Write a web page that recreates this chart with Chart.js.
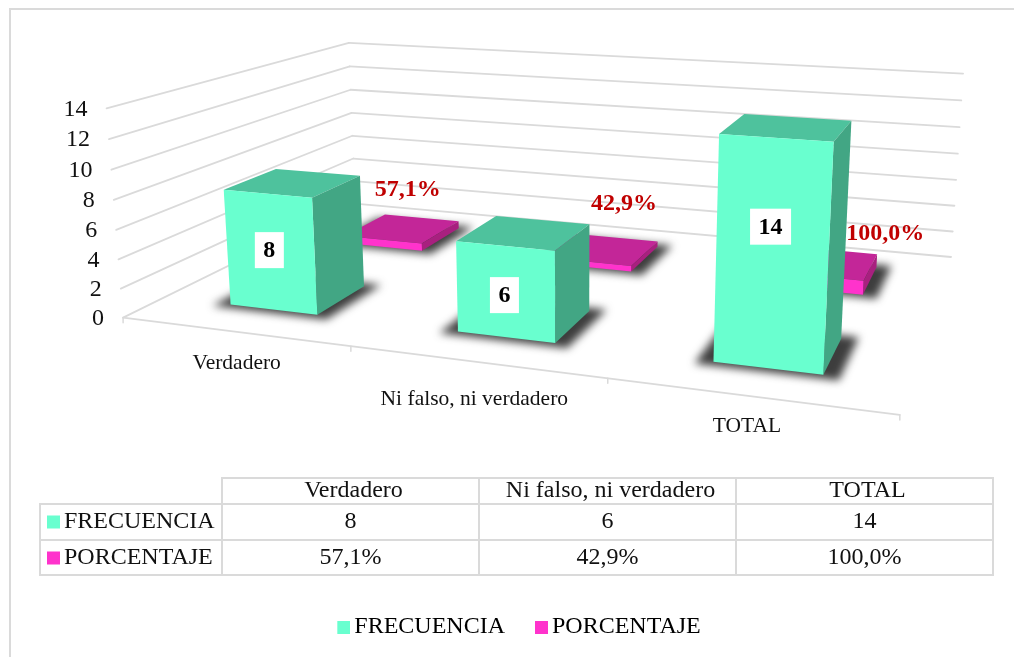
<!DOCTYPE html>
<html lang="es">
<head>
<meta charset="utf-8">
<title>Frecuencia y porcentaje</title>
<script src="https://cdn.jsdelivr.net/npm/chart.js@4"></script>
<style>
html,body{margin:0;padding:0;background:#fff;overflow:hidden}
canvas{display:block}
</style>
</head>
<body>
<canvas id="c" width="1014" height="657"></canvas>
<script>
const categories = ["Verdadero", "Ni falso, ni verdadero", "TOTAL"];
const seriesNames = ["FRECUENCIA", "PORCENTAJE"];
const frecuencia = [8, 6, 14];
const porcentaje = [0.571, 0.429, 1];

const FACE = { front: ["#69FFCF", "#FF33CC"], top: ["#4EC29D", "#C32698"], side: ["#42A684", "#A8207F"] };
const GRID = "#dadada", SERIF = "'Liberation Serif'", RED = "#C00000";
const ROWS = [[0.145, 0.35], [0.645, 0.86]];
const U_NUDGE = 0.002;
const fmtPct = v => (v * 100).toFixed(1).replace(".", ",") + "%";

// Camera calibration: room corners (u, v, w) -> screen
const CAL = [
  [0,0,0,123,317],[1,0,0,900,415],[0,1,0,355,204],[1,1,0,951,257],
  [0,0,1,106.5,109],[0,1,1,349,42.5],[1,1,1,963,73.5]
];
function solveCamera(pts){
  const A=[],b=[];
  for(const [u,v,w,x,y] of pts){
    A.push([u,v,w,1,0,0,0,0,-x*u,-x*v,-x*w]); b.push(x);
    A.push([0,0,0,0,u,v,w,1,-y*u,-y*v,-y*w]); b.push(y);
  }
  const n=11, M=[];
  for(let i=0;i<n;i++){ M[i]=[]; for(let j=0;j<=n;j++){ let s=0;
    for(let r=0;r<A.length;r++) s+=A[r][i]*(j<n?A[r][j]:b[r]); M[i][j]=s; } }
  for(let i=0;i<n;i++){
    let p=i; for(let r=i+1;r<n;r++) if(Math.abs(M[r][i])>Math.abs(M[p][i])) p=r;
    [M[i],M[p]]=[M[p],M[i]];
    for(let r=0;r<n;r++){ if(r===i) continue; const f=M[r][i]/M[i][i];
      for(let j=i;j<=n;j++) M[r][j]-=f*M[i][j]; }
  }
  return M.map((row,i)=>row[n]/row[i]);
}
const CAM = solveCamera(CAL);
function P(u,v,w){
  const d=CAM[8]*u+CAM[9]*v+CAM[10]*w+1;
  return [(CAM[0]*u+CAM[1]*v+CAM[2]*w+CAM[3])/d,(CAM[4]*u+CAM[5]*v+CAM[6]*w+CAM[7])/d];
}
function poly(ctx,pts,fill){
  ctx.beginPath(); pts.forEach((p,i)=>i?ctx.lineTo(p[0],p[1]):ctx.moveTo(p[0],p[1])); ctx.closePath();
  ctx.fillStyle=fill; ctx.fill();
}
function line(ctx,a,b,color,width){
  ctx.beginPath(); ctx.moveTo(a[0],a[1]); ctx.lineTo(b[0],b[1]);
  ctx.strokeStyle=color; ctx.lineWidth=width; ctx.stroke();
}
function text(ctx,s,x,y,font,color,align){
  ctx.font=font; ctx.fillStyle=color; ctx.textAlign=align||"center"; ctx.textBaseline="middle"; ctx.fillText(s,x,y);
}
function barBox(chart,d,i){
  const xs=chart.scales.x, ys=chart.scales.y, el=chart.getDatasetMeta(d).data[i];
  const uc=(el.x-xs.left)/xs.width+U_NUDGE, hw=el.width/xs.width/2;
  return {u0:uc-hw,u1:uc+hw,v0:ROWS[d][0],v1:ROWS[d][1],w:(ys.bottom-el.y)/ys.height};
}
const frecShift = [[-2,-1],[-2,4],[-3,-25]];
const pctShift = [[5,-39],[21,-45],[61,-29]];
const catShift = [[4,2],[0,8],[-1,0]];

const room3d = {
  id:"room3d",
  afterLayout(chart){ const l=chart.legend; l.left+=14; l.right+=14; l.top+=2; l.bottom+=2; },
  beforeDatasetsDraw(chart){
    const ctx=chart.ctx, ys=chart.scales.y;
    ctx.save(); ctx.lineCap="round";
    // frame
    ctx.strokeStyle=GRID; ctx.lineWidth=2;
    ctx.beginPath(); ctx.moveTo(10,657); ctx.lineTo(10,9); ctx.lineTo(1014,9); ctx.stroke();
    // walls
    ys.ticks.forEach(t=>{
      const w=(t.value-ys.min)/(ys.max-ys.min);
      line(ctx,P(0,0,w),P(0,1,w),GRID,1.8);
      line(ctx,P(0,1,w),P(1,1,w),GRID,1.8);
    });
    // floor front edge and ticks
    line(ctx,P(0,0,0),P(1,0,0),GRID,1.8);
    for(let i=0;i<=categories.length;i++){
      const a=P(i/categories.length,0,0);
      line(ctx,a,[a[0],a[1]+5],GRID,1.5);
    }
    // shadows
    ctx.filter="blur(4px)";
    for(let d=1;d>=0;d--) categories.forEach((_,i)=>{
      const b=barBox(chart,d,i), du=0.02, dv=0.02;
      poly(ctx,[P(b.u0-du,b.v0-dv,0),P(b.u1+du,b.v0-dv,0),P(b.u1+du,b.v1+dv,0),P(b.u0-du,b.v1+dv,0)],"rgba(40,40,40,0.9)");
    });
    ctx.filter="none";
    // bars, back row first
    for(let d=1;d>=0;d--) categories.forEach((_,i)=>{
      const b=barBox(chart,d,i);
      const f0=P(b.u0,b.v0,0),f1=P(b.u1,b.v0,0),t0=P(b.u0,b.v0,b.w),t1=P(b.u1,b.v0,b.w);
      const g0=P(b.u0,b.v1,b.w),g1=P(b.u1,b.v1,b.w),s1=P(b.u1,b.v1,0);
      poly(ctx,[t0,t1,g1,g0],FACE.top[d]);
      poly(ctx,[f1,s1,g1,t1],FACE.side[d]);
      poly(ctx,[f0,f1,t1,t0],FACE.front[d]);
    });
    ctx.restore();
    return false;
  },
  afterDraw(chart){
    const ctx=chart.ctx, ys=chart.scales.y, xs=chart.scales.x;
    ctx.save();
    const F24=`24px ${SERIF}`, B24=`bold 24px ${SERIF}`, F21=`21.5px ${SERIF}`;
    // value axis labels
    ys.ticks.forEach(t=>{
      const p=P(0,0,(t.value-ys.min)/(ys.max-ys.min));
      text(ctx,t.label,p[0]-19,p[1]+1,F24,"#111","right");
    });
    // category labels
    categories.forEach((c,i)=>{
      const p=P((xs.getPixelForValue(i)-xs.left)/xs.width,0,0);
      text(ctx,c,p[0]-1+catShift[i][0],p[1]+30+catShift[i][1],F21,"#111");
    });
    // data labels
    frecuencia.forEach((v,i)=>{
      const b=barBox(chart,0,i);
      const a=P(b.u0,b.v0,0),c=P(b.u1,b.v0,b.w);
      const x=(a[0]+c[0])/2+frecShift[i][0], y=(a[1]+c[1])/2+frecShift[i][1];
      ctx.font=B24; const tw=ctx.measureText(String(v)).width+17;
      ctx.fillStyle="#fff"; ctx.fillRect(x-tw/2,y-18,tw,36);
      text(ctx,String(v),x,y+1,B24,"#000");
    });
    porcentaje.forEach((v,i)=>{
      const b=barBox(chart,1,i);
      const p=P((b.u0+b.u1)/2,(b.v0+b.v1)/2,b.w);
      text(ctx,fmtPct(v),p[0]+pctShift[i][0],p[1]+pctShift[i][1],B24,RED);
    });
    // data table
    const cols=[40,222,479,736,993], rowsY=[478,504,540,575];
    ctx.lineCap="square";
    line(ctx,[cols[1],rowsY[0]],[cols[4],rowsY[0]],GRID,2);
    for(let r=1;r<rowsY.length;r++) line(ctx,[cols[0],rowsY[r]],[cols[4],rowsY[r]],GRID,2);
    line(ctx,[cols[0],rowsY[1]],[cols[0],rowsY[3]],GRID,2);
    for(let c=1;c<cols.length;c++) line(ctx,[cols[c],rowsY[0]],[cols[c],rowsY[3]],GRID,2);
    const cx=i=>(cols[i+1]+cols[i+2])/2;
    categories.forEach((c,i)=>text(ctx,c,cx(i)+3,rowsY[0]+13,F24,"#111"));
    frecuencia.forEach((v,i)=>text(ctx,String(v),cx(i),rowsY[1]+18,F24,"#111"));
    porcentaje.forEach((v,i)=>text(ctx,fmtPct(v),cx(i),rowsY[2]+18,F24,"#111"));
    seriesNames.forEach((s,d)=>{
      const y=rowsY[d+1]+18;
      ctx.fillStyle=FACE.front[d]; ctx.fillRect(47,y-6.5,13,13);
      text(ctx,s,64,y,F24,"#111","left");
    });
    ctx.restore();
  }
};
function swatch(color){
  const c=document.createElement("canvas"); c.width=17; c.height=13;
  const g=c.getContext("2d"); g.fillStyle=color; g.fillRect(4,0,13,13);
  return c;
}
new Chart(document.getElementById("c"),{
  type:"bar",
  plugins:[room3d],
  data:{
    labels:categories,
    datasets:[
      {label:seriesNames[0],data:frecuencia,backgroundColor:FACE.front[0],grouped:false,barPercentage:0.395,categoryPercentage:1},
      {label:seriesNames[1],data:porcentaje,backgroundColor:FACE.front[1],grouped:false,barPercentage:0.395,categoryPercentage:1}
    ]
  },
  options:{
    responsive:false,animation:false,events:[],
    layout:{padding:{bottom:10}},
    scales:{
      x:{display:false},
      y:{display:false,min:0,max:14,ticks:{stepSize:2}}
    },
    plugins:{
      tooltip:{enabled:false},
      legend:{
        position:"bottom",
        labels:{
          font:{family:"Liberation Serif",size:24},color:"#111",padding:34,
          usePointStyle:true,pointStyleWidth:1,boxHeight:13,
          generateLabels:ch=>ch.data.datasets.map((ds,i)=>({
            text:ds.label,datasetIndex:i,pointStyle:swatch(ds.backgroundColor),
            fillStyle:ds.backgroundColor,strokeStyle:ds.backgroundColor,lineWidth:0,hidden:false
          }))
        }
      }
    }
  }
});
</script>
</body>
</html>
